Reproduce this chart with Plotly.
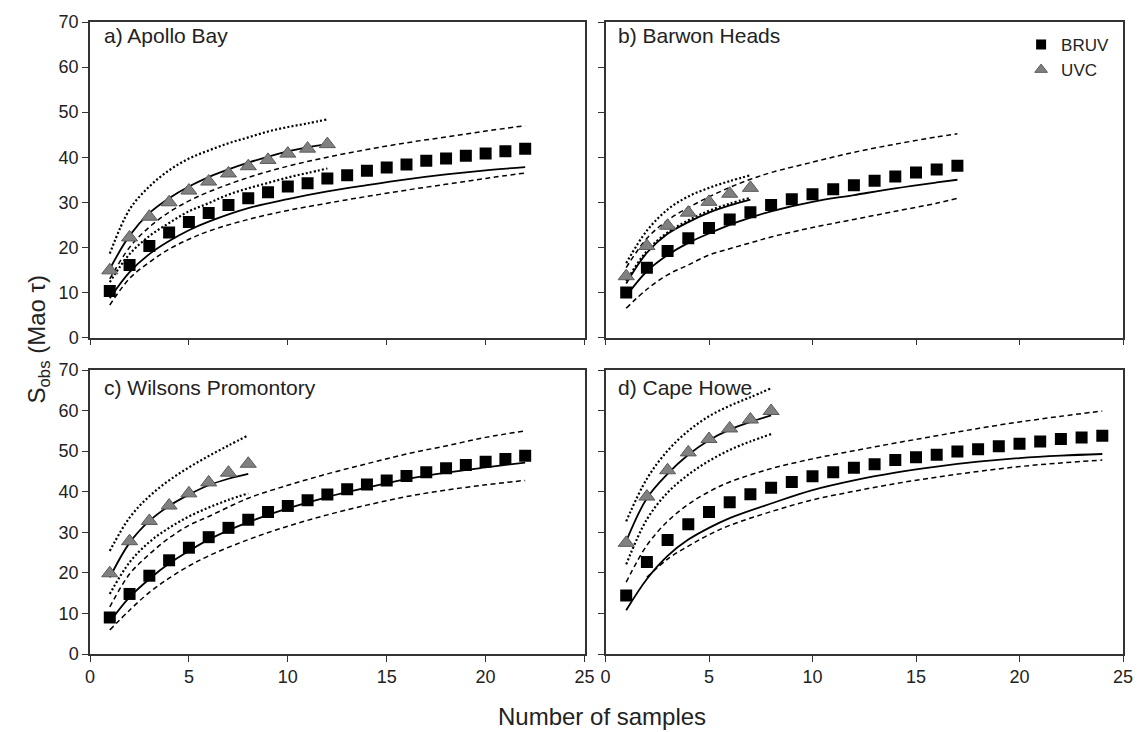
import plotly.graph_objects as go

# ---------------- data ----------------
PANEL_TITLES = ["a) Apollo Bay", "b) Barwon Heads", "c) Wilsons Promontory", "d) Cape Howe"]

# Panel a - Apollo Bay
A_BRUV_X = list(range(1, 23))
A_BRUV_Y = [10.3, 16.1, 20.3, 23.3, 25.6, 27.6, 29.4, 30.9, 32.2, 33.5, 34.2, 35.3,
            36.0, 37.0, 37.7, 38.4, 39.2, 39.7, 40.3, 40.8, 41.3, 41.9]
A_UVC_X = list(range(1, 13))
A_UVC_Y = [14.9, 22.2, 26.8, 30.0, 32.6, 34.6, 36.4, 38.0, 39.4, 40.8, 41.9, 42.9]
A_BL_X = [1, 2, 3, 4, 5, 6, 8, 10, 12, 14, 16, 18, 20, 22]
A_BRUV_MEAN = [8.7, 14.5, 18.5, 21.4, 23.8, 25.7, 28.7, 30.7, 32.4, 33.8, 35.1, 36.2, 37.1, 37.8]
A_BRUV_UP = [13.0, 20.0, 24.5, 27.8, 30.3, 32.3, 35.5, 38.0, 40.0, 41.7, 43.2, 44.5, 45.8, 47.0]
A_BRUV_LO = [7.2, 13.1, 16.7, 19.6, 21.8, 23.6, 26.2, 28.2, 29.8, 31.3, 32.7, 34.0, 35.3, 36.5]
A_UL_X = list(range(1, 13))
A_UVC_MEAN = [15.2, 22.6, 27.6, 30.9, 33.5, 35.6, 37.3, 38.8, 40.1, 41.3, 42.2, 42.9]
A_UVC_UP = [18.6, 28.4, 33.5, 37.1, 39.7, 41.5, 43.1, 44.4, 45.7, 46.7, 47.5, 48.4]
A_UVC_LO = [12.3, 18.5, 22.5, 25.4, 28.0, 29.8, 31.7, 33.1, 34.3, 35.5, 36.5, 37.5]

# Panel b - Barwon Heads
B_BRUV_X = list(range(1, 18))
B_BRUV_Y = [10.0, 15.5, 19.2, 22.0, 24.3, 26.2, 27.8, 29.4, 30.7, 31.8, 32.9, 33.8,
            34.8, 35.7, 36.6, 37.3, 38.1]
B_UVC_X = list(range(1, 8))
B_UVC_Y = [13.6, 20.3, 24.8, 27.7, 30.1, 31.9, 33.2]
B_BL_X = [1, 2, 3, 4, 5, 6, 7, 8, 10, 12, 14, 16, 17]
B_BRUV_MEAN = [9.2, 14.7, 18.3, 21.0, 23.1, 25.0, 26.6, 28.0, 30.1, 31.6, 33.1, 34.4, 35.0]
B_BRUV_UP = [15.5, 22.0, 26.0, 28.8, 31.2, 33.3, 35.1, 36.6, 38.9, 41.1, 42.9, 44.5, 45.2]
B_BRUV_LO = [6.5, 10.7, 13.9, 16.1, 18.3, 19.7, 21.0, 22.3, 24.4, 26.2, 28.0, 29.8, 30.9]
B_UL_X = list(range(1, 8))
B_UVC_MEAN = [12.0, 18.8, 23.0, 25.6, 27.7, 29.3, 30.6]
B_UVC_UP = [16.5, 23.7, 28.4, 31.3, 33.2, 34.7, 36.0]
B_UVC_LO = [12.5, 19.2, 23.3, 26.0, 28.1, 29.7, 31.0]

# Panel c - Wilsons Promontory
C_BRUV_X = list(range(1, 23))
C_BRUV_Y = [9.0, 14.8, 19.3, 23.1, 26.2, 28.8, 31.1, 33.1, 35.0, 36.5, 37.9, 39.3,
            40.6, 41.8, 42.8, 43.9, 44.8, 45.8, 46.6, 47.4, 48.1, 48.9]
C_UVC_X = list(range(1, 9))
C_UVC_Y = [19.9, 27.8, 32.8, 36.6, 39.6, 42.3, 44.7, 46.9]
C_BL_X = [1, 2, 3, 4, 5, 6, 8, 10, 12, 14, 16, 18, 20, 22]
C_BRUV_MEAN = [7.9, 14.0, 18.5, 22.3, 25.4, 28.2, 32.5, 35.9, 38.7, 41.0, 43.1, 44.7, 46.0, 47.2]
C_BRUV_UP = [11.6, 19.7, 24.6, 28.6, 31.7, 33.9, 38.4, 41.6, 44.4, 46.9, 49.3, 51.3, 53.4, 55.0]
C_BRUV_LO = [5.9, 10.8, 15.2, 18.7, 21.7, 24.2, 28.2, 31.5, 34.3, 36.7, 38.8, 40.4, 41.7, 42.8]
C_UL_X = list(range(1, 9))
C_UVC_MEAN = [18.9, 27.4, 32.8, 36.5, 39.3, 41.6, 43.2, 44.4]
C_UVC_UP = [25.4, 33.6, 38.9, 42.8, 46.0, 48.8, 51.4, 53.9]
C_UVC_LO = [14.8, 22.6, 27.6, 31.1, 33.9, 36.1, 38.0, 39.6]

# Panel d - Cape Howe
D_BRUV_X = list(range(1, 25))
D_BRUV_Y = [14.4, 22.7, 28.1, 32.0, 35.0, 37.4, 39.4, 41.0, 42.4, 43.8, 44.8, 45.9,
            46.8, 47.8, 48.5, 49.1, 49.9, 50.5, 51.2, 51.8, 52.4, 53.0, 53.4, 53.8]
D_UVC_X = list(range(1, 9))
D_UVC_Y = [27.4, 38.8, 45.3, 49.7, 53.0, 55.6, 57.8, 59.9]
D_BL_X = [1, 2, 3, 4, 5, 6, 8, 10, 12, 14, 16, 18, 20, 22, 24]
D_BRUV_MEAN = [10.8, 18.5, 24.2, 28.2, 31.1, 33.5, 37.1, 40.4, 42.8, 44.7, 46.2, 47.4, 48.3, 48.9, 49.3]
D_BRUV_UP = [17.7, 26.8, 32.7, 36.9, 40.0, 42.4, 45.7, 48.1, 50.1, 52.0, 53.8, 55.6, 57.2, 58.6, 59.9]
D_BL_LO_X = [2, 3, 4, 5, 6, 8, 10, 12, 14, 16, 18, 20, 22, 24]
D_BRUV_LO = [18.9, 23.4, 26.6, 29.4, 31.7, 35.1, 38.0, 40.1, 42.0, 43.6, 45.0, 46.2, 47.1, 47.8]
D_UL_X = list(range(1, 9))
D_UVC_MEAN = [27.8, 38.4, 44.4, 49.1, 52.7, 55.3, 57.2, 58.8]
D_UVC_UP = [32.7, 43.2, 50.1, 55.0, 58.6, 61.2, 63.3, 65.5]
D_UVC_LO = [22.1, 33.2, 39.8, 44.2, 47.6, 50.3, 52.4, 54.2]

X_TICKS = [0, 5, 10, 15, 20, 25]
Y_TICKS = [0, 10, 20, 30, 40, 50, 60, 70]

PANELS = [
    dict(bx=A_BRUV_X, by=A_BRUV_Y, ux=A_UVC_X, uy=A_UVC_Y,
         blx=A_BL_X, bm=A_BRUV_MEAN, bu=A_BRUV_UP, blox=A_BL_X, bl=A_BRUV_LO,
         ulx=A_UL_X, um=A_UVC_MEAN, uu=A_UVC_UP, ul=A_UVC_LO),
    dict(bx=B_BRUV_X, by=B_BRUV_Y, ux=B_UVC_X, uy=B_UVC_Y,
         blx=B_BL_X, bm=B_BRUV_MEAN, bu=B_BRUV_UP, blox=B_BL_X, bl=B_BRUV_LO,
         ulx=B_UL_X, um=B_UVC_MEAN, uu=B_UVC_UP, ul=B_UVC_LO),
    dict(bx=C_BRUV_X, by=C_BRUV_Y, ux=C_UVC_X, uy=C_UVC_Y,
         blx=C_BL_X, bm=C_BRUV_MEAN, bu=C_BRUV_UP, blox=C_BL_X, bl=C_BRUV_LO,
         ulx=C_UL_X, um=C_UVC_MEAN, uu=C_UVC_UP, ul=C_UVC_LO),
    dict(bx=D_BRUV_X, by=D_BRUV_Y, ux=D_UVC_X, uy=D_UVC_Y,
         blx=D_BL_X, bm=D_BRUV_MEAN, bu=D_BRUV_UP, blox=D_BL_LO_X, bl=D_BRUV_LO,
         ulx=D_UL_X, um=D_UVC_MEAN, uu=D_UVC_UP, ul=D_UVC_LO),
]

# ---------------- figure ----------------
FONT = "Liberation Sans, Arial, Helvetica, sans-serif"
W, H = 1145, 732
ML, MR, MT, MB = 90, 21, 13, 78
PW, PH = W - ML - MR, H - MT - MB

def px_x(p):
    return (p - ML) / PW

def px_y(p):
    return (H - MB - p) / PH

X_DOMAINS = [[0, px_x(585)], [px_x(606), 1]]
Y_DOMAINS = [[px_y(333), 1], [0, px_y(366)]]

fig = go.Figure()
axis_names = [("x", "y"), ("x2", "y2"), ("x3", "y3"), ("x4", "y4")]

SOLID = dict(color="black", width=1.8)
DASH = dict(color="black", width=1.5, dash="5px,3.5px")
DOT = dict(color="black", width=2.2, dash="2px,2.2px")

for i, p in enumerate(PANELS):
    xa, ya = axis_names[i]
    common = dict(xaxis=xa, yaxis=ya, mode="lines", showlegend=False, hoverinfo="skip",
                  line_shape="spline")
    fig.add_trace(go.Scatter(x=p["blx"], y=p["bu"], line=DASH, **common))
    fig.add_trace(go.Scatter(x=p["blox"], y=p["bl"], line=DASH, **common))
    fig.add_trace(go.Scatter(x=p["blx"], y=p["bm"], line=SOLID, **common))
    fig.add_trace(go.Scatter(x=p["ulx"], y=p["uu"], line=DOT, **common))
    fig.add_trace(go.Scatter(x=p["ulx"], y=p["ul"], line=DOT, **common))
    fig.add_trace(go.Scatter(x=p["ulx"], y=p["um"], line=SOLID, **common))
    fig.add_trace(go.Scatter(x=p["bx"], y=p["by"], xaxis=xa, yaxis=ya, mode="markers",
                             showlegend=False,
                             marker=dict(symbol="square", size=12, color="black",
                                         line=dict(width=0))))
    fig.add_trace(go.Scatter(x=p["ux"], y=p["uy"], xaxis=xa, yaxis=ya, mode="markers",
                             showlegend=False,
                             marker=dict(symbol="triangle-up", size=14, color="#808080",
                                         line=dict(width=1, color="#5a5a5a"))))

# legend entries
fig.add_trace(go.Scatter(x=[None], y=[None], mode="markers", name="BRUV",
                         marker=dict(symbol="square", size=10, color="black")))
fig.add_trace(go.Scatter(x=[None], y=[None], mode="markers", name="UVC",
                         marker=dict(symbol="triangle-up", size=11, color="#808080",
                                     line=dict(width=1, color="#5a5a5a"))))

axis_style = dict(showgrid=False, zeroline=False, showline=True, mirror=True,
                  linecolor="#333333", linewidth=1.5, ticks="outside", ticklen=6,
                  tickwidth=1.3, tickcolor="#333333",
                  tickfont=dict(family=FONT, size=18, color="#222222"))

layout = dict(
    width=W, height=H,
    margin=dict(l=ML, r=MR, t=MT, b=MB),
    paper_bgcolor="white", plot_bgcolor="white",
    font=dict(family=FONT, color="#222222"),
    showlegend=True,
    legend=dict(x=px_x(1022), y=px_y(18), xanchor="left", yanchor="top",
                bgcolor="rgba(0,0,0,0)", font=dict(family=FONT, size=17, color="#222222"),
                tracegroupgap=0, itemwidth=30),
)
for i in range(4):
    r, c = divmod(i, 2)
    xk = "xaxis" if i == 0 else f"xaxis{i+1}"
    yk = "yaxis" if i == 0 else f"yaxis{i+1}"
    yname = "y" if i == 0 else f"y{i+1}"
    xname = "x" if i == 0 else f"x{i+1}"
    layout[xk] = dict(axis_style, domain=X_DOMAINS[c], range=[0, 25], tickvals=X_TICKS,
                      showticklabels=(r == 1), anchor=yname)
    layout[yk] = dict(axis_style, domain=Y_DOMAINS[r], range=[0, 70], tickvals=Y_TICKS,
                      showticklabels=(c == 0), anchor=xname)

fig.update_layout(**layout)

# panel titles
title_pos = [(0.024, 0.957), (0.021, 0.957), (0.024, 0.94), (0.02, 0.94)]
for i, t in enumerate(PANEL_TITLES):
    xr = "x domain" if i == 0 else f"x{i+1} domain"
    yr = "y domain" if i == 0 else f"y{i+1} domain"
    fig.add_annotation(text=t, xref=xr, yref=yr, x=title_pos[i][0], y=title_pos[i][1],
                       xanchor="left", yanchor="middle", showarrow=False,
                       font=dict(family=FONT, size=21, color="#222222"))

# axis titles
fig.add_annotation(text="Number of samples", xref="paper", yref="paper",
                   x=px_x(602), y=px_y(717), xanchor="center", yanchor="middle",
                   showarrow=False, font=dict(family=FONT, size=24, color="#222222"))
fig.add_annotation(text="S<sub>obs</sub> (Mao τ)", xref="paper", yref="paper",
                   x=px_x(38), y=px_y(335), xanchor="center", yanchor="middle",
                   textangle=-90, showarrow=False,
                   font=dict(family=FONT, size=24, color="#222222"))

fig.write_html("out.html")
